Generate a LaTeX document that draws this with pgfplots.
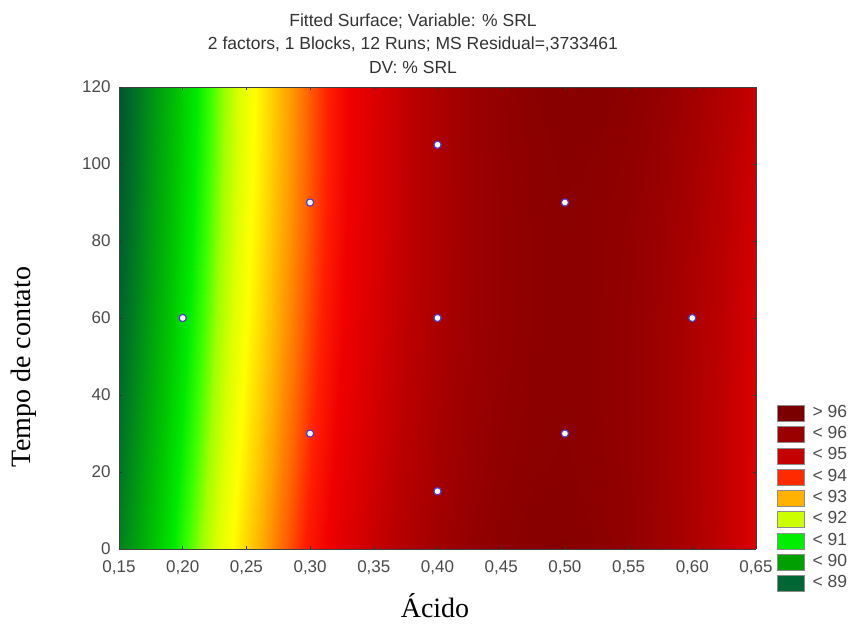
\documentclass[border=0pt]{standalone}
\usepackage{fontspec}
\setmainfont{Liberation Sans}
\newfontfamily\timesf{Liberation Serif}
\usepackage{pgfplots}
\pgfplotsset{compat=1.18}

\definecolor{titletxt}{HTML}{333333}
\definecolor{ticktxt}{HTML}{4A4A4A}
\definecolor{dotring}{RGB}{80,60,200}
% legend colours
\definecolor{l96p}{RGB}{122,0,0}
\definecolor{l96}{RGB}{154,0,0}
\definecolor{l95}{RGB}{196,0,0}
\definecolor{l94}{RGB}{255,42,0}
\definecolor{l93}{RGB}{255,179,0}
\definecolor{l92}{RGB}{204,255,0}
\definecolor{l91}{RGB}{0,238,0}
\definecolor{l90}{RGB}{0,160,0}
\definecolor{l89}{RGB}{0,102,51}

\begin{document}
\begin{tikzpicture}[x=1pt,y=1pt]
\useasboundingbox (0,0) rectangle (849,625);
\begin{axis}[
  at={(119pt,76pt)}, anchor=south west,
  scale only axis, width=637pt, height=462pt,
  view={0}{90},
  xmin=0.15, xmax=0.65, ymin=0, ymax=120,
  enlargelimits=false,
  xtick={0.15,0.20,0.25,0.30,0.35,0.40,0.45,0.50,0.55,0.60,0.65},
  ytick={0,20,40,60,80,100,120},
  ztick=\empty,
  /pgf/number format/assume math mode=true,
  xticklabel style={/pgf/number format/.cd, fixed, fixed zerofill, precision=2, use comma,
    /tikz/.cd, yshift=-8pt},
  yticklabel style={xshift=-5pt},
  ticklabel style={font=\fontsize{17}{20}\selectfont, text=ticktxt},
  tick align=inside,
  major tick length=3pt,
  tick style={draw=black!80, line width=0.6pt},
  axis line style={draw=black!75, line width=0.6pt},
  colormap={srl}{rgb255(0pt)=(0,85,45); rgb255(5pt)=(0,110,40); rgb255(10pt)=(0,140,25);
    rgb255(15pt)=(0,170,10); rgb255(20pt)=(0,200,0); rgb255(25pt)=(0,235,0);
    rgb255(29pt)=(60,255,0); rgb255(33pt)=(160,255,0); rgb255(37pt)=(220,255,0);
    rgb255(41pt)=(255,255,0); rgb255(45pt)=(255,210,0); rgb255(49pt)=(255,160,0);
    rgb255(53pt)=(255,100,0); rgb255(57pt)=(255,30,0); rgb255(61pt)=(240,0,0);
    rgb255(66pt)=(215,0,0); rgb255(71pt)=(185,0,0); rgb255(76pt)=(160,0,0);
    rgb255(79pt)=(145,0,0); rgb255(81pt)=(135,0,0)},
  point meta min=88.2, point meta max=96.3,
  legend image code/.code={\draw[#1, draw=black!45, line width=0.5pt] (0pt,-8pt) rectangle (27pt,8pt);},
  legend cell align=left,
  legend style={at={(1.033,0.3117)}, anchor=north west, draw=none, fill=none,
    inner sep=0pt, outer sep=0pt, row sep=4.8pt,
    font=\fontsize{17.5}{20}\selectfont, text=ticktxt,
    nodes={inner sep=0pt, text height=12pt, text depth=4pt},
    /tikz/every odd column/.append style={column sep=8pt}},
]
\addplot3[surf, shader=interp, forget plot] table {
x y z
0.150 0 89.00
0.150 20 88.81
0.150 40 88.65
0.150 60 88.50
0.150 80 88.38
0.150 100 88.28
0.150 120 88.20

0.175 0 90.03
0.175 20 89.86
0.175 40 89.70
0.175 60 89.56
0.175 80 89.45
0.175 100 89.36
0.175 120 89.29

0.200 0 90.99
0.200 20 90.82
0.200 40 90.67
0.200 60 90.54
0.200 80 90.44
0.200 100 90.36
0.200 120 90.29

0.225 0 91.86
0.225 20 91.70
0.225 40 91.56
0.225 60 91.44
0.225 80 91.35
0.225 100 91.27
0.225 120 91.22

0.250 0 92.66
0.250 20 92.51
0.250 40 92.38
0.250 60 92.27
0.250 80 92.19
0.250 100 92.12
0.250 120 92.08

0.275 0 93.38
0.275 20 93.24
0.275 40 93.12
0.275 60 93.02
0.275 80 92.95
0.275 100 92.89
0.275 120 92.86

0.300 0 94.01
0.300 20 93.88
0.300 40 93.77
0.300 60 93.68
0.300 80 93.61
0.300 100 93.57
0.300 120 93.55

0.325 0 94.57
0.325 20 94.45
0.325 40 94.35
0.325 60 94.27
0.325 80 94.21
0.325 100 94.18
0.325 120 94.17

0.350 0 95.05
0.350 20 94.94
0.350 40 94.85
0.350 60 94.78
0.350 80 94.73
0.350 100 94.71
0.350 120 94.71

0.375 0 95.46
0.375 20 95.36
0.375 40 95.28
0.375 60 95.22
0.375 80 95.18
0.375 100 95.17
0.375 120 95.18

0.400 0 95.79
0.400 20 95.69
0.400 40 95.62
0.400 60 95.57
0.400 80 95.54
0.400 100 95.54
0.400 120 95.56

0.425 0 96.04
0.425 20 95.95
0.425 40 95.89
0.425 60 95.85
0.425 80 95.83
0.425 100 95.84
0.425 120 95.86

0.450 0 96.20
0.450 20 96.12
0.450 40 96.07
0.450 60 96.04
0.450 80 96.03
0.450 100 96.05
0.450 120 96.08

0.475 0 96.29
0.475 20 96.22
0.475 40 96.18
0.475 60 96.16
0.475 80 96.16
0.475 100 96.19
0.475 120 96.23

0.500 0 96.30
0.500 20 96.25
0.500 40 96.21
0.500 60 96.20
0.500 80 96.21
0.500 100 96.25
0.500 120 96.30

0.525 0 96.23
0.525 20 96.19
0.525 40 96.16
0.525 60 96.16
0.525 80 96.18
0.525 100 96.22
0.525 120 96.29

0.550 0 96.08
0.550 20 96.05
0.550 40 96.03
0.550 60 96.04
0.550 80 96.07
0.550 100 96.12
0.550 120 96.20

0.575 0 95.86
0.575 20 95.84
0.575 40 95.83
0.575 60 95.85
0.575 80 95.89
0.575 100 95.95
0.575 120 96.04

0.600 0 95.56
0.600 20 95.54
0.600 40 95.54
0.600 60 95.57
0.600 80 95.62
0.600 100 95.69
0.600 120 95.79

0.625 0 95.18
0.625 20 95.17
0.625 40 95.18
0.625 60 95.22
0.625 80 95.28
0.625 100 95.36
0.625 120 95.46

0.650 0 94.71
0.650 20 94.71
0.650 40 94.73
0.650 60 94.78
0.650 80 94.85
0.650 100 94.94
0.650 120 95.05
};

% experimental runs
\addplot3[only marks, mark=*, mark size=3.6pt,
  mark options={fill=white, draw=dotring, line width=1.2pt}, forget plot]
  coordinates {(0.2,60,97) (0.3,30,97) (0.3,90,97) (0.4,15,97) (0.4,60,97)
               (0.4,105,97) (0.5,30,97) (0.5,90,97) (0.6,60,97)};

\addlegendimage{fill=l96p}\addlegendentry{> 96}
\addlegendimage{fill=l96}\addlegendentry{< 96}
\addlegendimage{fill=l95}\addlegendentry{< 95}
\addlegendimage{fill=l94}\addlegendentry{< 94}
\addlegendimage{fill=l93}\addlegendentry{< 93}
\addlegendimage{fill=l92}\addlegendentry{< 92}
\addlegendimage{fill=l91}\addlegendentry{< 91}
\addlegendimage{fill=l90}\addlegendentry{< 90}
\addlegendimage{fill=l89}\addlegendentry{< 89}
\end{axis}

\begin{scope}[font=\fontsize{17.5}{20}\selectfont, text=titletxt]
\node at (413,604) {Fitted Surface; Variable: \% SRL};
\node at (413,581) {2 factors, 1 Blocks, 12 Runs; MS Residual=,3733461};
\node at (413,558) {DV: \% SRL};
\end{scope}
\node[font=\timesf\fontsize{28}{32}\selectfont] at (435,19) {Ácido};
\node[font=\timesf\fontsize{28}{32}\selectfont, rotate=90] at (24,258) {Tempo de contato};
\end{tikzpicture}
\end{document}
